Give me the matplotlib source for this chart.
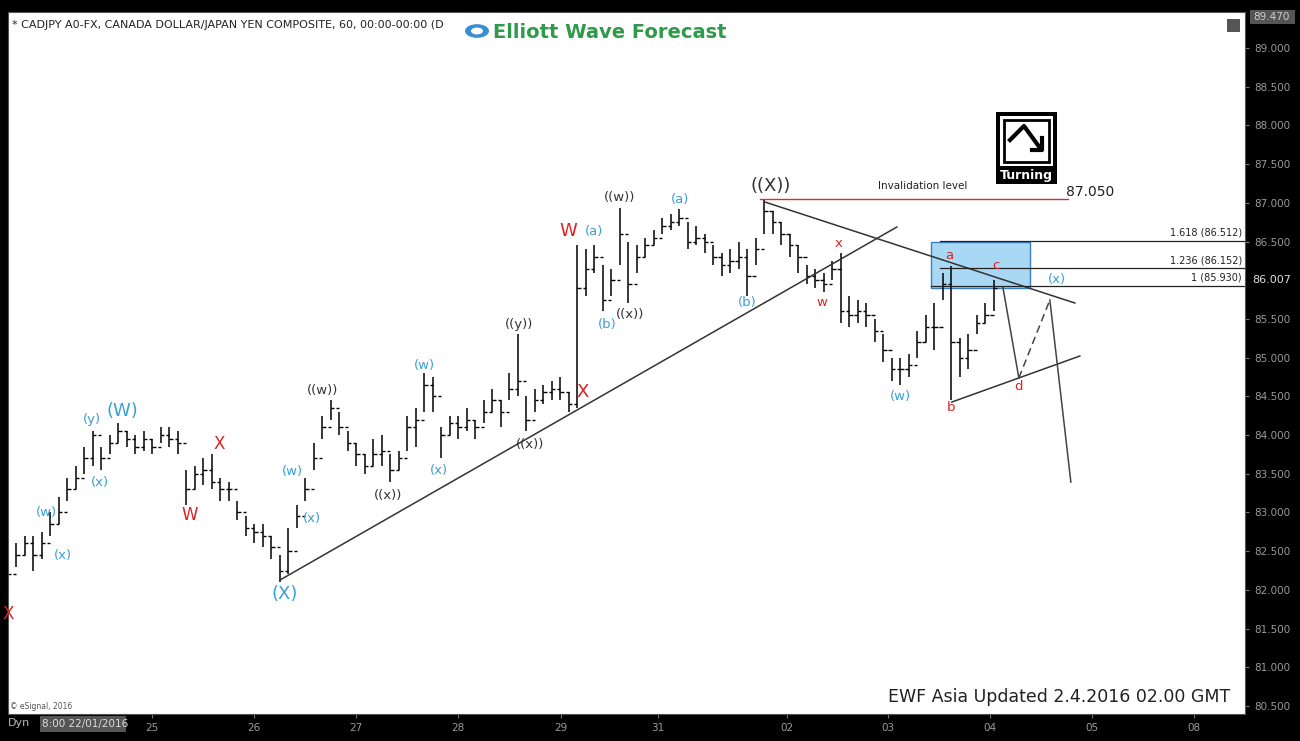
import numpy as np
import matplotlib
matplotlib.use("Agg")
import matplotlib.pyplot as plt
from matplotlib.patches import Rectangle, Circle, FancyArrow

bar_high = [82.4,82.6,82.7,82.7,82.75,83.0,83.2,83.45,83.6,83.85,84.05,83.85,84.0,84.15,84.05,84.0,84.05,83.95,84.1,84.1,
            84.05,83.55,83.6,83.7,83.75,83.45,83.4,83.15,82.95,82.85,82.85,82.7,82.45,82.8,83.1,83.45,83.9,84.25,84.45,84.3,
            84.05,83.9,83.75,83.95,84.0,83.75,83.8,84.25,84.35,84.8,84.75,84.1,84.25,84.25,84.35,84.2,84.45,84.6,84.45,84.8,
            85.3,84.5,84.6,84.65,84.7,84.75,84.55,86.45,86.4,86.45,86.2,86.15,86.93,86.5,86.45,86.55,86.65,86.8,86.85,86.92,
            86.75,86.7,86.6,86.45,86.35,86.4,86.5,86.4,86.55,87.04,86.9,86.75,86.6,86.45,86.2,86.15,86.1,86.25,86.35,85.8,
            85.75,85.7,85.5,85.3,85.0,85.0,85.05,85.35,85.55,85.7,86.1,86.18,85.25,85.3,85.55,85.7,86.0]
bar_low = [81.85,82.3,82.45,82.25,82.4,82.7,82.85,83.15,83.3,83.5,83.6,83.55,83.75,83.9,83.85,83.75,83.8,83.75,83.9,83.85,
           83.75,83.1,83.3,83.35,83.3,83.15,83.15,82.9,82.7,82.6,82.55,82.4,82.1,82.2,82.8,83.15,83.55,83.95,84.2,84.0,
           83.8,83.6,83.5,83.6,83.6,83.4,83.55,83.8,83.85,84.3,84.3,83.7,84.0,83.95,84.05,83.95,84.15,84.3,84.1,84.45,
           84.5,84.05,84.3,84.4,84.45,84.45,84.3,84.35,85.8,86.1,85.6,85.8,86.2,85.7,86.1,86.3,86.45,86.6,86.65,86.7,
           86.4,86.45,86.35,86.2,86.05,86.1,86.15,85.8,86.2,86.6,86.6,86.45,86.3,86.1,85.95,85.9,85.85,86.0,85.45,85.4,
           85.45,85.4,85.2,84.95,84.7,84.65,84.75,85.0,85.2,85.1,85.75,84.45,84.75,84.85,85.3,85.45,85.6]
bar_close = [82.2,82.45,82.6,82.45,82.6,82.85,83.0,83.3,83.45,83.7,84.0,83.7,83.9,84.05,83.95,83.85,83.95,83.85,84.0,83.95,
             83.9,83.3,83.5,83.55,83.4,83.3,83.3,83.0,82.8,82.75,82.7,82.55,82.25,82.5,82.95,83.3,83.7,84.1,84.35,84.1,
             83.9,83.75,83.6,83.75,83.8,83.55,83.7,84.1,84.2,84.65,84.5,84.0,84.15,84.1,84.2,84.1,84.3,84.45,84.3,84.6,
             84.7,84.2,84.45,84.55,84.6,84.55,84.4,85.9,86.15,86.3,85.75,86.0,86.6,85.95,86.3,86.45,86.55,86.7,86.75,86.8,
             86.5,86.55,86.5,86.3,86.2,86.25,86.3,86.05,86.4,86.9,86.75,86.6,86.45,86.3,86.05,86.0,85.95,86.15,85.6,85.55,
             85.6,85.55,85.35,85.1,84.85,84.85,84.9,85.2,85.4,85.4,85.95,85.2,85.0,85.1,85.45,85.55,85.9]

day_labels = ["25", "26", "27", "28", "29", "31", "02", "03", "04", "05", "08"]
day_slots = [33.9, 57.9, 81.9, 105.9, 130.1, 152.9, 183.3, 207.1, 231.1, 255.1, 279.1]
price_ticks = [80.5, 81.0, 81.5, 82.0, 82.5, 83.0, 83.5, 84.0, 84.5, 85.0, 85.5, 86.5, 87.0, 87.5, 88.0, 88.5, 89.0]
fib_levels = [86.512, 86.152, 85.930]
fib_labels = ["1.618 (86.512)", "1.236 (86.152)", "1 (85.930)"]
invalidation = 87.050
last_price = 86.007

def sx(px):
    return (px - 8) / 4.25

def py(y):
    return 89.0 - (y - 48) / 77.41

W, H = 1300, 741
fig = plt.figure(figsize=(13, 7.41), dpi=100, facecolor="black")
ax = fig.add_axes([8 / W, 1 - 714 / H, (1245 - 8) / W, (714 - 12) / H])
ax.set_facecolor("white")
ax.set_xlim(0, 291.1)
ax.set_ylim(80.397, 89.465)

n = len(bar_close)
xs = np.arange(n) * 2.0
opens = [bar_close[0]] + bar_close[:-1]
ax.vlines(xs, bar_low, bar_high, color="black", lw=1.1)
ax.hlines(opens, xs - 0.8, xs, color="black", lw=1)
ax.hlines(bar_close, xs, xs + 0.8, color="black", lw=1)

# trend lines
ax.plot([sx(280), sx(897)], [py(580), py(227)], color="#333333", lw=1.1)
ax.plot([sx(765), sx(1075)], [py(202), py(303)], color="#333333", lw=1.1)
ax.plot([sx(952), sx(1080)], [py(402), py(356)], color="#333333", lw=1.1)
ax.plot([sx(760), sx(1068)], [invalidation, invalidation], color="#cc3333", lw=1)
# projection
ax.plot([sx(1003), sx(1019)], [py(287), py(378)], color="#444444", lw=1.1)
ax.plot([sx(1019), sx(1050)], [py(378), py(300)], color="#444444", lw=1.1, ls=(0, (5, 3)))
ax.plot([sx(1050), sx(1071)], [py(300), py(482)], color="#444444", lw=1.1)

# blue box and fib lines
ax.add_patch(Rectangle((sx(931), 85.90), sx(1030) - sx(931), 0.60, facecolor="#a9d8f5",
                       edgecolor="#3a7fc4", lw=1, zorder=0.5))
for lv, lab, st in zip(fib_levels, fib_labels, [940, 940, 931]):
    ax.plot([sx(st), 291.1], [lv, lv], color="#222222", lw=0.9)
    ax.text(sx(1242), lv + 0.04, lab, ha="right", va="bottom", fontsize=7, color="#222222",
            family="DejaVu Sans")

ax.text(sx(923), py(186), "Invalidation level", fontsize=7.5, ha="center", va="center", color="#222222")
ax.text(sx(1090), py(192), "87.050", fontsize=10, ha="center", va="center", color="#222222")

blue, red, dark = "#3a9fd8", "#dd2222", "#333333"
labels = [
    ("X", 8, 614, red, 12), ("(w)", 46, 512, blue, 9.5), ("(x)", 63, 555, blue, 9.5), ("(x)", 100, 482, blue, 9.5),
    ("(y)", 92, 419, blue, 9.5), ("(W)", 122, 411, blue, 13), ("W", 190, 515, red, 12), ("X", 219, 444, red, 12),
    ("(X)", 285, 594, blue, 13), ("(w)", 292, 471, blue, 9.5), ("(x)", 312, 518, blue, 9.5), ("((w))", 323, 390, dark, 9.5),
    ("((x))", 388, 495, dark, 9.5), ("(w)", 424, 365, blue, 9.5), ("(x)", 439, 470, blue, 9.5), ("((y))", 519, 324, dark, 9.5),
    ("((x))", 530, 444, dark, 9.5), ("W", 568, 231, red, 13), ("X", 583, 392, red, 13), ("(a)", 594, 231, blue, 9.5),
    ("(b)", 607, 324, blue, 9.5), ("((x))", 630, 314, dark, 9.5), ("((w))", 620, 197, dark, 9.5), ("(a)", 680, 199, blue, 9.5),
    ("(b)", 747, 302, blue, 9.5), ("((X))", 771, 186, dark, 13), ("w", 822, 302, red, 9.5), ("x", 839, 243, red, 9.5),
    ("(w)", 901, 396, blue, 9.5), ("a", 949, 255, red, 9.5), ("b", 951, 407, red, 9.5), ("c", 996, 265, red, 9.5),
    ("d", 1019, 386, red, 9.5), ("(x)", 1057, 279, blue, 9.5),
]
for t, x, y, c, s in labels:
    ax.text(sx(x), py(y), t, color=c, fontsize=s, ha="center", va="center")

ax.text(sx(1230), py(697), "EWF Asia Updated 2.4.2016 02.00 GMT", fontsize=12.5, ha="right", va="center",
        color="#222222", family="Liberation Sans Narrow" if False else "DejaVu Sans Condensed" if False else None)
ax.text(sx(10), py(706), "© eSignal, 2016", fontsize=5.5, ha="left", va="center", color="#555555")

# axes styling
ax.yaxis.tick_right()
ax.set_yticks(price_ticks)
ax.set_yticklabels([f"{p:.3f}" for p in price_ticks], fontsize=7.5, color="#9a9a9a")
ax.set_xticks(day_slots)
ax.set_xticklabels(day_labels, fontsize=7.5, color="#9a9a9a")
ax.tick_params(axis="both", color="#777777", length=3)
for s in ax.spines.values():
    s.set_color("#555555")

# right axis extras
fig.text(1252 / W, 1 - 280 / H, f"{last_price:.3f}", fontsize=8, color="#dddddd", va="center")
fig.patches.append(Rectangle((1250 / W, 1 - 24 / H), 45 / W, 14 / H, transform=fig.transFigure,
                             facecolor="#555555", edgecolor="none"))
fig.text(1253 / W, 1 - 17 / H, "89.470", fontsize=7.5, color="#cccccc", va="center")

# bottom-left
fig.patches.append(Rectangle((40 / W, 1 - 732 / H), 86 / W, 16 / H, transform=fig.transFigure,
                             facecolor="#555555", edgecolor="none"))
fig.text(8 / W, 1 - 723 / H, "Dyn", fontsize=8, color="#bbbbbb", va="center")
fig.text(42 / W, 1 - 724 / H, "8:00 22/01/2016", fontsize=7.5, color="#dddddd", va="center")

# title + logo
fig.text(12 / W, 1 - 25 / H, "* CADJPY A0-FX, CANADA DOLLAR/JAPAN YEN COMPOSITE, 60, 00:00-00:00 (D",
         fontsize=8, color="#222222", va="center")
fig.patches.append(Circle((477 / W, 1 - 31 / H), 12 / W, transform=fig.transFigure,
                          facecolor="#3a8fd0", edgecolor="none"))
fig.patches.append(Circle((477 / W, 1 - 31 / H), 6 / W, transform=fig.transFigure,
                          facecolor="white", edgecolor="none"))
fig.text(493 / W, 1 - 32 / H, "Elliott Wave Forecast", fontsize=14, color="#2e9a4a",
         fontweight="bold", va="center")

# turning icon
fig.patches.append(Rectangle((996 / W, 1 - 184 / H), 61 / W, 72 / H, transform=fig.transFigure,
                             facecolor="black", edgecolor="none"))
fig.patches.append(Rectangle((1000 / W, 1 - 166 / H), 53 / W, 50 / H, transform=fig.transFigure,
                             facecolor="white", edgecolor="none"))
fig.patches.append(Rectangle((1004 / W, 1 - 162 / H), 45 / W, 42 / H, transform=fig.transFigure,
                             facecolor="white", edgecolor="black", lw=2))
fig.lines.append(plt.Line2D([1010 / W, 1024 / W, 1040 / W], [1 - 140 / H, 1 - 126 / H, 1 - 148 / H],
                            transform=fig.transFigure, color="black", lw=3))
fig.lines.append(plt.Line2D([1032 / W, 1042 / W, 1042 / W], [1 - 150 / H, 1 - 150 / H, 1 - 138 / H],
                            transform=fig.transFigure, color="black", lw=3))
fig.text(1026 / W, 1 - 176 / H, "Turning", fontsize=9, color="white", fontweight="bold",
         ha="center", va="center")

# top-right small icon
fig.patches.append(Rectangle((1227 / W, 1 - 32 / H), 13 / W, 13 / H, transform=fig.transFigure,
                             facecolor="#555555", edgecolor="none"))

fig.savefig("out.png", dpi=100, facecolor="black")
